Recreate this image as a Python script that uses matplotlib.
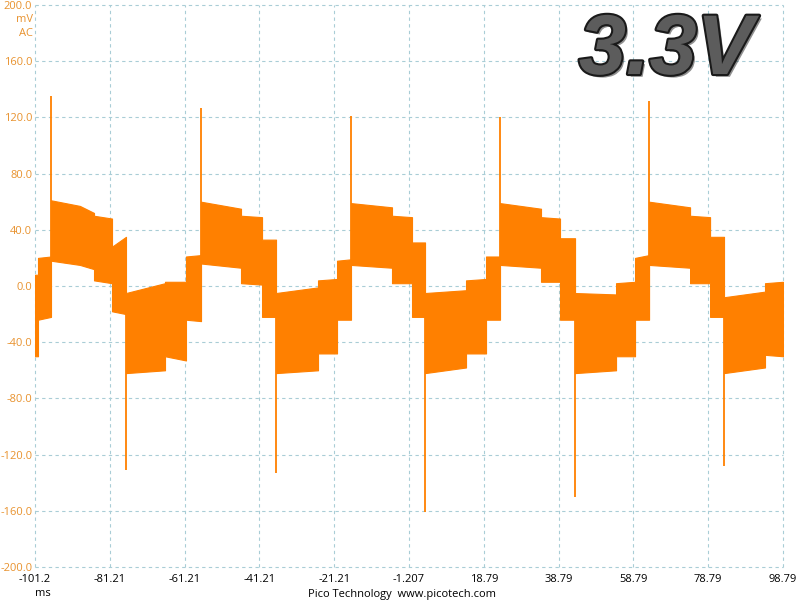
import numpy as np
import matplotlib
matplotlib.use("Agg")
import matplotlib.pyplot as plt
import matplotlib.patheffects as pe

# envelope of the noisy trace (ms, mV)
t = [-101.2, -100.4, -100.4, -96.92, -96.92, -89.2, -85.42, -85.42, -80.61, -80.61, -76.87,
     -76.87, -66.44, -66.44, -60.83, -60.83, -56.81,
     -56.81, -46.12, -46.12, -40.50, -40.50, -36.76, -36.76, -25.53, -25.53, -20.45, -20.45, -16.71,
     -16.71, -5.75, -5.75, -0.40, -0.40, 3.08, 3.08, 14.04, 14.04, 19.39, 19.39, 23.13,
     23.13, 34.09, 34.09, 39.17, 39.17, 43.19, 43.19, 54.15, 54.15, 59.23, 59.23, 62.98,
     62.98, 73.94, 73.94, 79.29, 79.29, 83.02, 83.02, 93.98, 93.98, 98.79]
hi = [8, 8, 20, 21, 61, 57, 52, 50, 48, 28, 35,
      -5, 2, 3, 3, 21, 22,
      60, 55, 50, 49, 33, 33, -5, -1, 4, 5, 18, 19,
      59, 56, 50, 49, 31, 31, -5, -3, 4, 5, 21, 21,
      59, 55, 49, 48, 34, 34, -5, -6, 2, 3, 20, 22,
      60, 56, 50, 49, 35, 35, -8, -4, 2, 3]
lo = [-50, -50, -24, -22, 18, 15, 12, 4, 2, -18, -20,
      -62, -60, -50, -53, -24, -25,
      16, 13, 2, 1, -22, -22, -62, -60, -48, -48, -24, -24,
      15, 13, 2, 2, -22, -22, -62, -58, -48, -48, -24, -24,
      15, 13, 3, 3, -24, -24, -62, -60, -50, -50, -24, -24,
      15, 13, 2, 2, -22, -22, -62, -58, -49, -50]

# switching spikes
pos_t = [-96.92, -56.81, -16.71, 23.13, 62.98]
pos_v = [135, 127, 121, 120, 132]
neg_t = [-76.87, -36.76, 3.08, 43.19, 83.02]
neg_v = [-131, -133, -161, -150, -128]

xticks = [-101.2, -81.21, -61.21, -41.21, -21.21, -1.207, 18.79, 38.79, 58.79, 78.79, 98.79]
xlabels = ["-101.2", "-81.21", "-61.21", "-41.21", "-21.21", "-1.207", "18.79", "38.79", "58.79", "78.79", "98.79"]
yticks = [-200, -160, -120, -80, -40, 0, 40, 80, 120, 160, 200]

trace = "#FF8000"
label_orange = "#E8922E"

fig = plt.figure(figsize=(8, 6), dpi=100)
ax = fig.add_axes([35/800, 33/600, 748/800, 562/600])

ax.fill_between(t, lo, hi, color=trace, lw=0.8, zorder=3)
ax.vlines(pos_t, 0, pos_v, color=trace, lw=1.3, zorder=3)
ax.vlines(neg_t, 0, neg_v, color=trace, lw=1.3, zorder=3)

ax.set_xlim(-101.2, 98.79)
ax.set_ylim(-200, 200)
ax.set_xticks(xticks)
ax.set_xticklabels(xlabels)
ax.set_yticks(yticks)
ax.set_yticklabels(["%.1f" % v for v in yticks])
ax.tick_params(length=0, labelsize=8)
ax.tick_params(axis="y", colors=label_orange, pad=2)
ax.tick_params(axis="x", colors="black", pad=5)
for lab in ax.get_xticklabels() + ax.get_yticklabels():
    lab.set_fontfamily("Open Sans")
for s in ax.spines.values():
    s.set_visible(False)
ax.grid(True, color="#a9cdd6", linestyle=(0, (3, 3)), lw=0.8, zorder=1)
for gl in ax.get_xgridlines() + ax.get_ygridlines():
    gl.set_clip_on(False)

fig.text(33/800, 1 - 20/600, "mV", ha="right", va="center", color=label_orange, fontsize=8, family="Open Sans")
fig.text(33/800, 1 - 33/600, "AC", ha="right", va="center", color=label_orange, fontsize=8, family="Open Sans")
fig.text(43/800, 1 - 594/600, "ms", ha="center", va="center", fontsize=8, family="Open Sans")
fig.text(402/800, 1 - 594/600, "Pico Technology  www.picotech.com", ha="center", va="center",
         fontsize=8, family="Open Sans")

fig.text(666/800, 1 - 52/600, "3.3V", ha="center", va="center", fontsize=61, color="#5c5c5c",
         family="Liberation Sans", weight="bold", style="italic",
         path_effects=[pe.withSimplePatchShadow(offset=(2, -2), shadow_rgbFace="#222222", alpha=0.5),
                       pe.withStroke(linewidth=3, foreground="#1a1a1a")])

fig.savefig("out.png", dpi=100)
